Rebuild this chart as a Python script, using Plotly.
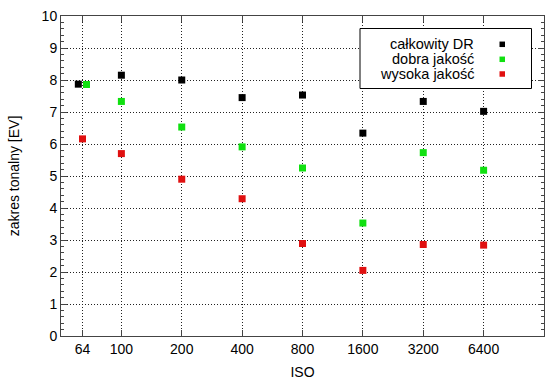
import plotly.graph_objects as go

iso_ticks = [64, 100, 200, 400, 800, 1600, 3200, 6400]
tick_labels = ["64", "100", "200", "400", "800", "1600", "3200", "6400"]

series_names = ["całkowity DR", "dobra jakość", "wysoka jakość"]
series_colors = ["#000000", "#10e010", "#e01010"]

iso_total = [61, 100, 200, 400, 800, 1600, 3200, 6400]
dr_total = [7.87, 8.15, 8.00, 7.45, 7.53, 6.34, 7.33, 7.02]

iso_good = [67, 100, 200, 400, 800, 1600, 3200, 6400]
dr_good = [7.86, 7.33, 6.53, 5.91, 5.25, 3.53, 5.73, 5.18]

iso_high = [64, 100, 200, 400, 800, 1600, 3200, 6400]
dr_high = [6.16, 5.70, 4.90, 4.29, 2.89, 2.05, 2.86, 2.84]

FONT = "Liberation Sans, Arial, Helvetica, sans-serif"

fig = go.Figure()
for xs, ys, name, col in [(iso_total, dr_total, series_names[0], series_colors[0]),
                          (iso_good, dr_good, series_names[1], series_colors[1]),
                          (iso_high, dr_high, series_names[2], series_colors[2])]:
    fig.add_trace(go.Scatter(x=xs, y=ys, mode="markers", name=name,
                             marker=dict(symbol="square", size=7, color=col,
                                         line=dict(width=0)),
                             showlegend=False))

# custom legend (text left, marker right) like gnuplot
fig.add_shape(type="rect", xref="paper", yref="paper",
              x0=(360 - 61) / 483, x1=(531.5 - 61) / 483,
              y0=(336 - 88.5) / 320, y1=(336 - 28.5) / 320,
              line=dict(color="black", width=1), fillcolor="white", layer="above")
line_ys = [44.3, 59.3, 74.0]
for name, col, py in zip(series_names, series_colors, line_ys):
    yp = (336 - py) / 320
    fig.add_annotation(xref="paper", yref="paper", x=(475 - 61) / 483, y=yp,
                       text=name, showarrow=False, xanchor="right", yanchor="middle",
                       borderpad=0,
                       font=dict(family=FONT, size=14.5, color="black"))
    fig.add_shape(type="rect", xref="paper", yref="paper",
                  x0=(499.5 - 61) / 483, x1=(505 - 61) / 483,
                  y0=yp - 2.75 / 320, y1=yp + 2.75 / 320,
                  line=dict(width=0), fillcolor=col, layer="above")

fig.update_layout(
    width=550, height=389,
    margin=dict(l=61, r=6, t=16, b=53, autoexpand=False),
    paper_bgcolor="white", plot_bgcolor="white",
    font=dict(family=FONT, size=14, color="black"),
    xaxis=dict(type="log", range=[1.69897, 4.10721], automargin=False,
               tickvals=iso_ticks, ticktext=tick_labels,
               ticks="inside", ticklen=6, tickcolor="#444",
               showline=True, linecolor="#444", linewidth=1, mirror="ticks",
               showgrid=True, gridcolor="#222", griddash="1px,2px", gridwidth=1,
               zeroline=False,
               title=dict(text="ISO", standoff=11,
                          font=dict(family=FONT, size=14))),
    yaxis=dict(range=[0, 10], dtick=1, tick0=0, automargin=False,
               ticks="inside", ticklen=6, tickcolor="#444",
               minor=dict(dtick=0.2, ticks="inside", ticklen=3, tickcolor="#444",
                          showgrid=False),
               showline=True, linecolor="#444", linewidth=1, mirror="ticks",
               showgrid=True, gridcolor="#222", griddash="1px,2px", gridwidth=1,
               zeroline=False,
               title=dict(text="zakres tonalny [EV]", standoff=18,
                          font=dict(family=FONT, size=14))),
)

fig.write_html("out.html", config={"displayModeBar": False},
               post_script="document.body.style.margin='0';document.body.style.overflow='hidden';")
